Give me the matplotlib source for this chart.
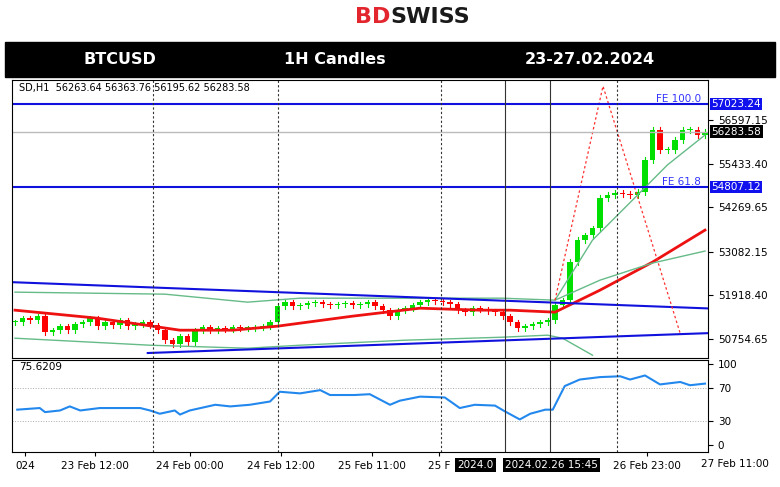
import numpy as np
import matplotlib.pyplot as plt
from matplotlib.patches import Rectangle

# hourly closes, BTCUSD
closes = [51203, 51309, 51256, 51363, 50936, 50989, 51096, 50989, 51149, 51203,
          51309, 51096, 51203, 51122, 51256, 51096, 51149, 51203, 51122, 50989,
          50722, 50615, 50829, 50669, 50989, 51069, 50989, 51042, 51016, 51069,
          51042, 51042, 51069, 51096, 51203, 51630, 51737, 51630, 51656, 51710,
          51737, 51683, 51656, 51683, 51710, 51656, 51683, 51737, 51630, 51523,
          51363, 51523, 51576, 51656, 51737, 51790, 51763, 51737, 51683, 51523,
          51470, 51576, 51550, 51496, 51470, 51363, 51203, 51042, 51096, 51149,
          51203, 51256, 51656, 51790, 52805, 53392, 53525, 53712, 54513, 54593,
          54647, 54620, 54593, 54674, 55528, 56329, 55795, 55795, 56062, 56329,
          56329, 56196, 56283]
wick = 70

ma_red_i = [0, 11, 22, 29, 35, 45, 54, 62, 66, 72, 78, 85, 92]
ma_red_p = [51523, 51309, 50989, 50989, 51096, 51363, 51576, 51523, 51523, 51470, 52057, 52805, 53659]
band_up_i = [0, 20, 31, 38, 65, 72, 78, 85, 92]
band_up_p = [52004, 51950, 51737, 51843, 51843, 51790, 52324, 52780, 53100]
band_lo_i = [0, 18, 31, 38, 52, 65, 71, 73, 77]
band_lo_p = [50775, 50588, 50508, 50588, 50722, 50802, 50856, 50775, 50322]
ma_fast_i = [72, 77, 83, 87, 92]
ma_fast_p = [51790, 53392, 54593, 55400, 56196]
chan_up_i = [-0.4, 92.4]
chan_up_p = [52270, 51570]
chan_lo_i = [17.7, 92.4]
chan_lo_p = [50380, 50910]
fib_i = [72, 78.4, 88.7]
fib_p = [51790, 57500, 50900]

rsi_i = [0.3, 3.3, 4, 6, 7.3, 8.7, 11.3, 16.7, 18, 19.3, 21.3, 22, 23.3, 26.7, 28.7, 31.3,
         34, 35.3, 38, 40.7, 42, 45.3, 47.3, 50, 51.3, 54, 57.3, 59.3, 61.3, 64, 65.3, 67.3,
         68.7, 70.7, 71.7, 73.3, 75.3, 78, 80.7, 82, 84, 86, 88.7, 90, 92]
rsi_v = [44, 46, 41, 43, 48, 43, 46, 46, 43, 39, 43, 38, 43, 50, 48, 50,
         54, 66, 64, 68, 62, 62, 63, 50, 55, 60, 59, 46, 50, 49, 42, 32,
         39, 44, 44, 73, 81, 84, 85, 81, 86, 75, 78, 74, 76]

price_ticks = [56597.15, 55433.40, 54269.65, 53082.15, 51918.40, 50754.65]
time_labels = ['024', '23 Feb 12:00', '24 Feb 00:00', '24 Feb 12:00', '25 Feb 11:00', '25 F',
               '26 Feb 23:00']
time_pos = [1.3, 10.7, 23.3, 35.5, 47.6, 56.5, 84.3]

W, H = 780, 487
fig = plt.figure(figsize=(7.8, 4.87), dpi=100)

def box(x0, y0, x1, y1):
    return [x0 / W, 1 - y1 / H, (x1 - x0) / W, (y1 - y0) / H]

# header
fig.text(0.5, 1 - 17 / H, 'BD', ha='right', va='center', fontsize=16,
         fontweight='bold', color='#e3262e')
fig.text(0.5, 1 - 17 / H, 'SWISS', ha='left', va='center', fontsize=16,
         fontweight='bold', color='#1a1a1a')
fig.patches.append(Rectangle((5 / W, 1 - 77 / H), 770 / W, 35 / H, transform=fig.transFigure,
                             color='black'))
for x, t in [(120, 'BTCUSD'), (335, '1H Candles'), (590, '23-27.02.2024')]:
    fig.text(x / W, 1 - 60 / H, t, ha='center', va='center', color='white',
             fontsize=11.5, fontweight='bold')

xl = (-0.4, 92.4)
ax = fig.add_axes(box(12, 80, 708, 358))
opens = [closes[0]] + closes[:-1]
for i, (o, c) in enumerate(zip(opens, closes)):
    col = '#00e000' if c >= o else '#ff0000'
    ax.plot([i, i], [min(o, c) - wick, max(o, c) + wick], color=col, lw=0.8)
    ax.bar(i, max(abs(c - o), 20), bottom=min(o, c), width=0.7, color=col)
ax.plot(ma_red_i, ma_red_p, color='#ee1111', lw=2)
ax.plot(band_up_i, band_up_p, color='#66bb88', lw=1)
ax.plot(band_lo_i, band_lo_p, color='#66bb88', lw=1)
ax.plot(ma_fast_i, ma_fast_p, color='#66bb88', lw=1)
ax.plot(chan_up_i, chan_up_p, color='#1111dd', lw=1.5)
ax.plot(chan_lo_i, chan_lo_p, color='#1111dd', lw=1.5)
ax.plot(fib_i, fib_p, color='#ff3030', lw=0.9, ls=(0, (2, 2)))
ax.axhline(57023.24, color='#1111dd', lw=1.5)
ax.axhline(54807.12, color='#1111dd', lw=1.5)
ax.axhline(56283.58, color='#bbbbbb', lw=1)
ax.text(91.5, 57023.24, 'FE 100.0', color='#3333ff', ha='right', va='bottom', fontsize=7.5)
ax.text(91.5, 54807.12, 'FE 61.8', color='#3333ff', ha='right', va='bottom', fontsize=7.5)
ax.text(0.5, 57450, 'SD,H1  56263.64 56363.76 56195.62 56283.58', fontsize=7, va='center')
ax.yaxis.tick_right()
ax.set_yticks(price_ticks)
ax.set_yticklabels(['%.2f' % p for p in price_ticks], fontsize=7.5)
for p, bg in [(57023.24, '#1111ee'), (54807.12, '#1111ee'), (56283.58, 'black')]:
    ax.text(1.005, p, '%.2f' % p, transform=ax.get_yaxis_transform(), fontsize=7.5,
            color='white', va='center', bbox=dict(fc=bg, ec='none', pad=1))
ax.set_xticks([])
ax.set_xlim(xl)
ax.set_ylim(50247, 57664)

rax = fig.add_axes(box(12, 360, 708, 452))
rax.plot(rsi_i, rsi_v, color='#2288ee', lw=1.5)
for lv in (70, 30):
    rax.axhline(lv, color='#aaaaaa', lw=0.7, ls=':')
rax.text(0.5, 97, '75.6209', fontsize=7.5, va='center')
rax.yaxis.tick_right()
rax.set_yticks([100, 70, 30, 0])
rax.tick_params(axis='y', labelsize=7.5)
rax.set_xticks(time_pos)
rax.set_xticklabels(time_labels, fontsize=7.5)
rax.tick_params(axis='x', length=3)
rax.set_xlim(xl)
rax.set_ylim(-8, 105)
fig.text(735 / W, 1 - 464 / H, '27 Feb 11:00', fontsize=7.5, ha='center', va='center')

for a in (ax, rax):
    for x in (18.4, 35, 56.8, 80.3):
        a.axvline(x, color='#333333', lw=0.8, ls=(0, (2, 2)))
    for x in (65.3, 71.3):
        a.axvline(x, color='#333333', lw=0.8)
rax.text(59, -24, '2024.0', fontsize=7.5, color='white', va='center',
         bbox=dict(fc='black', ec='none', pad=1.5), clip_on=False)
rax.text(65.3, -24, '2024.02.26 15:45', fontsize=7.5, color='white', va='center',
         bbox=dict(fc='black', ec='none', pad=1.5), clip_on=False)

fig.savefig('out.png', dpi=100)
